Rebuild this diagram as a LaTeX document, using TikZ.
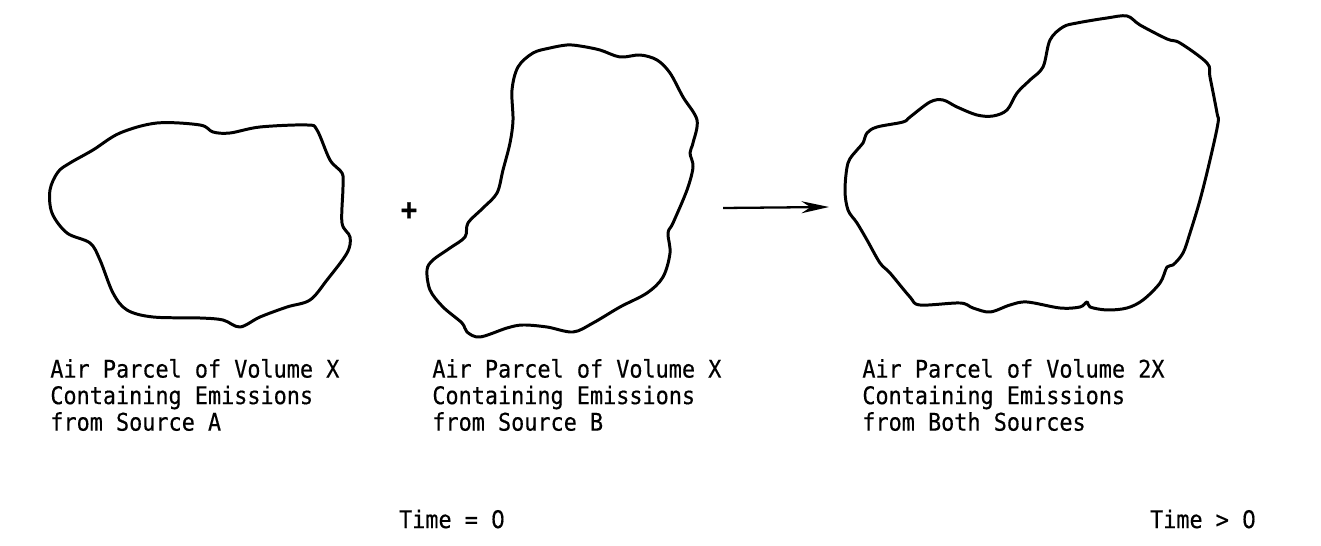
\documentclass[tikz,border=0pt]{standalone}
\usepackage{fontspec}
\setmonofont[FakeStretch=0.9, FakeBold=0.4]{DejaVu Sans Mono}
\newfontfamily\plainzero[FakeStretch=0.9, FakeBold=0.4]{DejaVu Sans}
\usetikzlibrary{arrows.meta}

\begin{document}
\begin{tikzpicture}[
  x=0.02cm, y=-0.02cm,
  parcel/.style={line width=1.7pt, line join=round},
  lbl/.style   ={font=\fontsize{13.8}{15.1}\selectfont\ttfamily, align=left, anchor=west, inner sep=0pt},
  timelbl/.style={font=\fontsize{13.8}{15.1}\selectfont\ttfamily, inner sep=0pt},
  arr/.style   ={-{Stealth[length=0.55cm, width=0.24cm]}, line width=1.3pt},
]
  \useasboundingbox (0,0) rectangle (1321,546);

  % parcel from source A
  \draw[parcel] plot[smooth cycle, tension=0.55] coordinates {
    (120,133) (157,123) (200,125) (213,132) (230,133) (260,127) (307,125)
    (317,130) (330,160) (342,173) (343,187) (342,223) (350,237) (347,253)
    (327,280) (310,300) (287,307) (260,317) (240,327) (223,320) (200,318)
    (153,317) (127,310) (113,293) (100,260) (90,243) (67,233) (52,213)
    (50,190) (58,172) (70,163) (93,150)};

  \node[font=\fontsize{17}{17}\selectfont\ttfamily\bfseries, inner sep=0pt] (plus) at (409,211) {+};

  % parcel from source B
  \draw[parcel] plot[smooth cycle, tension=0.55] coordinates {
    (567,45) (580,46) (600,50) (620,57) (640,55) (657,60) (670,73) (683,97)
    (697,120) (693,143) (690,153) (693,167) (687,190) (673,223) (668,233)
    (670,253) (663,277) (647,293) (620,307) (593,323) (573,332) (547,327)
    (523,325) (507,328) (480,337) (467,332) (462,323) (443,307) (430,290)
    (427,270) (433,260) (450,248) (465,237) (468,223) (483,208) (497,193)
    (503,170) (510,143) (513,120) (512,90) (518,67) (533,53) (550,48)};

  % mixing arrow
  \coordinate (arrtail) at (723,208);
  \coordinate (arrhead) at (829,207);
  \draw[arr] (arrtail) -- (arrhead);

  % combined parcel
  \draw[parcel] plot[smooth cycle, tension=0.55] coordinates {
    (845,190) (848,163) (857,150) (863,143) (867,133) (877,127) (903,122)
    (910,117) (930,102) (943,100) (957,107) (977,115) (993,116) (1007,110)
    (1017,93) (1030,80) (1043,67) (1050,40) (1063,27) (1077,23) (1107,18)
    (1127,16) (1140,25) (1167,39) (1180,43) (1207,63) (1210,77) (1217,113)
    (1218,123) (1210,160) (1200,200) (1190,233) (1183,253) (1173,265)
    (1167,267) (1160,283) (1143,300) (1127,308) (1107,310) (1090,307)
    (1087,302) (1080,307) (1060,308) (1027,302) (1010,305) (990,312)
    (973,308) (960,303) (920,305) (910,297) (890,273) (880,263) (867,240)
    (857,223) (848,210)};

  \node[lbl] (lblA)    at (50,395)  {Air Parcel of Volume X\\Containing Emissions\\from Source A};
  \node[lbl] (lblB)    at (432,395) {Air Parcel of Volume X\\Containing Emissions\\from Source B};
  \node[lbl] (lblBoth) at (862,395) {Air Parcel of Volume 2X\\Containing Emissions\\from Both Sources};

  \node[timelbl] (tzero) at (452,519)  {Time = {\plainzero 0}};
  \node[timelbl] (tlater) at (1203,519) {Time > {\plainzero 0}};
\end{tikzpicture}
\end{document}
